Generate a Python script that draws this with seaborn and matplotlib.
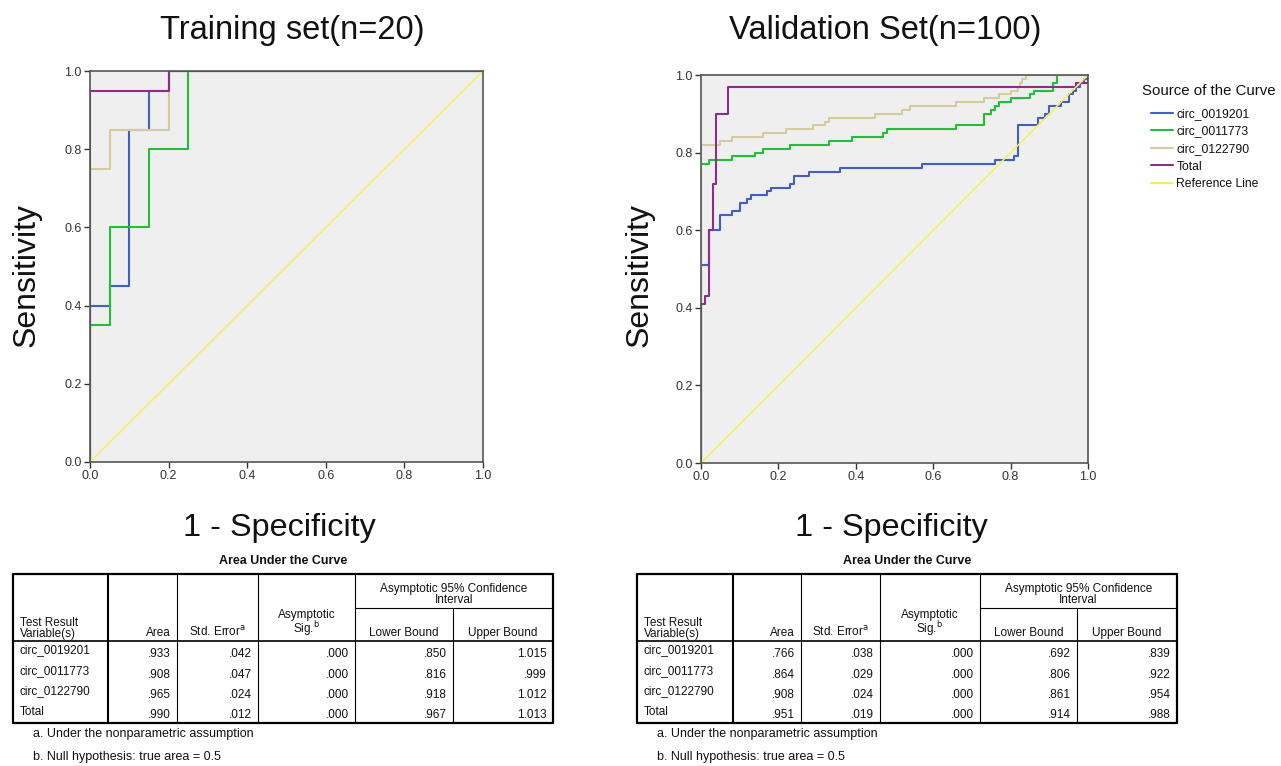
import matplotlib
matplotlib.use('Agg')
import matplotlib.pyplot as plt
import seaborn as sns
from matplotlib.lines import Line2D

# ROC points (1 - specificity, sensitivity), drawn as post-steps
train_blue_fpr = [0, 0, 0.05, 0.10, 0.15, 0.20, 1.0]
train_blue_tpr = [0, 0.40, 0.45, 0.85, 0.95, 1.0, 1.0]
train_green_fpr = [0, 0, 0.05, 0.15, 0.25, 1.0]
train_green_tpr = [0, 0.35, 0.60, 0.80, 1.0, 1.0]
train_tan_fpr = [0, 0, 0.05, 0.20, 1.0]
train_tan_tpr = [0, 0.75, 0.85, 1.0, 1.0]
train_total_fpr = [0, 0, 0.20, 1.0]
train_total_tpr = [0, 0.95, 1.0, 1.0]

val_blue_fpr = [0, 0, 0.02, 0.05, 0.08, 0.10, 0.12, 0.13, 0.17, 0.18, 0.23, 0.24, 0.28, 0.36,
                0.57, 0.76, 0.81, 0.82, 0.87, 0.89, 0.90, 0.93, 0.95, 0.96, 0.97, 0.98, 0.99, 1.0]
val_blue_tpr = [0, 0.51, 0.60, 0.64, 0.65, 0.67, 0.68, 0.69, 0.70, 0.71, 0.72, 0.74, 0.75, 0.76,
                0.77, 0.78, 0.79, 0.87, 0.89, 0.90, 0.92, 0.93, 0.95, 0.96, 0.97, 0.98, 0.99, 1.0]
val_green_fpr = [0, 0, 0.02, 0.08, 0.14, 0.16, 0.23, 0.33, 0.39, 0.47, 0.48,
                 0.66, 0.73, 0.75, 0.76, 0.77, 0.80, 0.85, 0.86, 0.91, 0.92, 1.0]
val_green_tpr = [0, 0.77, 0.78, 0.79, 0.80, 0.81, 0.82, 0.83, 0.84, 0.85, 0.86,
                 0.87, 0.90, 0.91, 0.92, 0.93, 0.94, 0.95, 0.96, 0.98, 1.0, 1.0]
val_tan_fpr = [0, 0, 0.05, 0.08, 0.16, 0.22, 0.29, 0.32, 0.33, 0.45, 0.52,
               0.54, 0.66, 0.73, 0.77, 0.80, 0.82, 0.825, 0.83, 0.84, 1.0]
val_tan_tpr = [0, 0.82, 0.83, 0.84, 0.85, 0.86, 0.87, 0.88, 0.89, 0.90, 0.91,
               0.92, 0.93, 0.94, 0.95, 0.96, 0.97, 0.98, 0.99, 1.0, 1.0]
val_total_fpr = [0, 0, 0.01, 0.02, 0.03, 0.04, 0.07, 0.97, 1.0, 1.0]
val_total_tpr = [0, 0.41, 0.43, 0.60, 0.72, 0.90, 0.97, 0.98, 0.98, 1.0]

ref_x = [0, 1]
ref_y = [0, 1]

curve_names = ['circ_0019201', 'circ_0011773', 'circ_0122790', 'Total']
curve_colors = ['#3f5fc2', '#22bf36', '#d4cc9c', '#8c2c8c']
ref_color = '#f6ef5c'

# AUC tables
train_area = ['.933', '.908', '.965', '.990']
train_se = ['.042', '.047', '.024', '.012']
train_sig = ['.000', '.000', '.000', '.000']
train_lower = ['.850', '.816', '.918', '.967']
train_upper = ['1.015', '.999', '1.012', '1.013']

val_area = ['.766', '.864', '.908', '.951']
val_se = ['.038', '.029', '.024', '.019']
val_sig = ['.000', '.000', '.000', '.000']
val_lower = ['.692', '.806', '.861', '.914']
val_upper = ['.839', '.922', '.954', '.988']

sns.set_style('white')
plt.rcParams['font.family'] = ['Liberation Sans', 'DejaVu Sans']
plt.rcParams['text.color'] = '#111111'

W, H = 1281, 766
fig = plt.figure(figsize=(W / 100, H / 100), dpi=100)


def fx(x):
    return x / W


def fy(y):
    return 1 - y / H


def roc_panel(ax, curves, title, tx, lx, ly):
    for (xs, ys), name, col in zip(curves, curve_names, curve_colors):
        sns.lineplot(x=xs, y=ys, ax=ax, color=col, lw=1.5, sort=False,
                     estimator=None, drawstyle='steps-post', label=name)
    sns.lineplot(x=ref_x, y=ref_y, ax=ax, color=ref_color, lw=1.1, sort=False,
                 estimator=None, label='Reference Line')
    ax.set_facecolor('#efefef')
    ax.set_xlim(0, 1)
    ax.set_ylim(0, 1)
    ticks = [0, 0.2, 0.4, 0.6, 0.8, 1.0]
    ax.set_xticks(ticks)
    ax.set_yticks(ticks)
    ax.set_xticklabels([f'{t:.1f}' for t in ticks])
    ax.set_yticklabels([f'{t:.1f}' for t in ticks])
    ax.tick_params(direction='out', length=4, width=1, labelsize=9,
                   colors='#333333', left=True, bottom=True, pad=2)
    for s in ax.spines.values():
        s.set_color('#555555')
        s.set_linewidth(1.2)
    ax.set_xlabel('')
    ax.set_ylabel('')
    leg = ax.get_legend()
    if leg is not None:
        leg.remove()
    fig.text(fx(tx), fy(30), title, fontsize=23.5, ha='center', va='center')
    fig.text(fx(lx), fy(528), '1 - Specificity', fontsize=23.3, ha='center',
             va='center')
    fig.text(fx(ly), fy(275), 'Sensitivity', fontsize=23, ha='center', va='center',
             rotation=90)


ax1 = fig.add_axes([fx(90), fy(462), 393 / W, 391 / H])
roc_panel(ax1, [(train_blue_fpr, train_blue_tpr), (train_green_fpr, train_green_tpr),
                (train_tan_fpr, train_tan_tpr), (train_total_fpr, train_total_tpr)],
          'Training set(n=20)', 292, 279, 27)

ax2 = fig.add_axes([fx(701), fy(463), 387 / W, 388 / H])
roc_panel(ax2, [(val_blue_fpr, val_blue_tpr), (val_green_fpr, val_green_tpr),
                (val_tan_fpr, val_tan_tpr), (val_total_fpr, val_total_tpr)],
          'Validation Set(n=100)', 885, 891, 640)

# legend on the right, title placed separately so entries are indented
fig.text(fx(1142), fy(91), 'Source of the Curve', fontsize=10.8, ha='left',
         va='center')
handles = [Line2D([], [], color=c, lw=1.5) for c in curve_colors]
handles.append(Line2D([], [], color=ref_color, lw=1.5))
fig.legend(handles, curve_names + ['Reference Line'], loc='upper left',
           bbox_to_anchor=(fx(1151), fy(108)), frameon=False, fontsize=8.7,
           handlelength=1.8, handletextpad=0.3, labelspacing=0.46,
           borderaxespad=0, borderpad=0)


def draw_table(cols, area, se, sig, lower, upper):
    top, mid, hdr, bot = 574, 608, 641, 723
    kw = dict(transform=fig.transFigure, color='black')

    def hline(y, x0, x1, lw):
        fig.add_artist(Line2D([fx(x0), fx(x1)], [fy(y), fy(y)], lw=lw, **kw))

    def vline(x, y0, y1, lw):
        fig.add_artist(Line2D([fx(x), fx(x)], [fy(y0), fy(y1)], lw=lw, **kw))

    hline(top, cols[0], cols[-1], 1.6)
    hline(bot, cols[0], cols[-1], 1.6)
    hline(hdr, cols[0], cols[-1], 1.2)
    hline(mid, cols[4], cols[-1], 0.8)
    vline(cols[0], top, bot, 1.6)
    vline(cols[-1], top, bot, 1.6)
    vline(cols[1], top, bot, 1.5)
    for c in cols[2:5]:
        vline(c, top, bot, 0.8)
    vline(cols[5], mid, bot, 0.8)

    fs = 8.5
    fig.text(fx((cols[0] + cols[-1]) / 2), fy(561), 'Area Under the Curve',
             fontsize=9, fontweight='bold', ha='center', va='center')
    fig.text(fx(cols[0] + 7), fy(640), 'Test Result\nVariable(s)', fontsize=fs,
             ha='left', va='bottom', linespacing=0.85)
    fig.text(fx(cols[2] - 6), fy(639), 'Area', fontsize=fs, ha='right', va='bottom')
    fig.text(fx((cols[2] + cols[3]) / 2), fy(639), r'Std. Error$^{\mathrm{a}}$',
             fontsize=fs, ha='center', va='bottom')
    fig.text(fx((cols[3] + cols[4]) / 2), fy(638), 'Asymptotic\n' + r'Sig.$^{\mathrm{b}}$',
             fontsize=fs, ha='center', va='bottom', linespacing=0.85)
    fig.text(fx((cols[4] + cols[6]) / 2), fy(606),
             'Asymptotic 95% Confidence\nInterval', fontsize=fs, ha='center',
             va='bottom', linespacing=0.85)
    fig.text(fx((cols[4] + cols[5]) / 2), fy(639), 'Lower Bound', fontsize=fs,
             ha='center', va='bottom')
    fig.text(fx((cols[5] + cols[6]) / 2), fy(639), 'Upper Bound', fontsize=fs,
             ha='center', va='bottom')

    for i, name in enumerate(curve_names):
        yy = 652 + i * 20.5
        fig.text(fx(cols[0] + 7), fy(yy - 1.5), name, fontsize=fs, ha='left',
                 va='center')
        vals = [area[i], se[i], sig[i], lower[i], upper[i]]
        for j, v in enumerate(vals):
            fig.text(fx(cols[j + 2] - 6), fy(yy + 2), v, fontsize=fs, ha='right',
                     va='center')

    fig.text(fx(cols[0] + 20), fy(734), 'a. Under the nonparametric assumption',
             fontsize=9, ha='left', va='center')
    fig.text(fx(cols[0] + 20), fy(757), 'b. Null hypothesis: true area = 0.5',
             fontsize=9, ha='left', va='center')


draw_table([13, 108, 177, 258, 355, 453, 553],
           train_area, train_se, train_sig, train_lower, train_upper)
draw_table([637, 733, 801, 880, 980, 1077, 1177],
           val_area, val_se, val_sig, val_lower, val_upper)

fig.savefig('out.png', dpi=100)
plt.close(fig)
